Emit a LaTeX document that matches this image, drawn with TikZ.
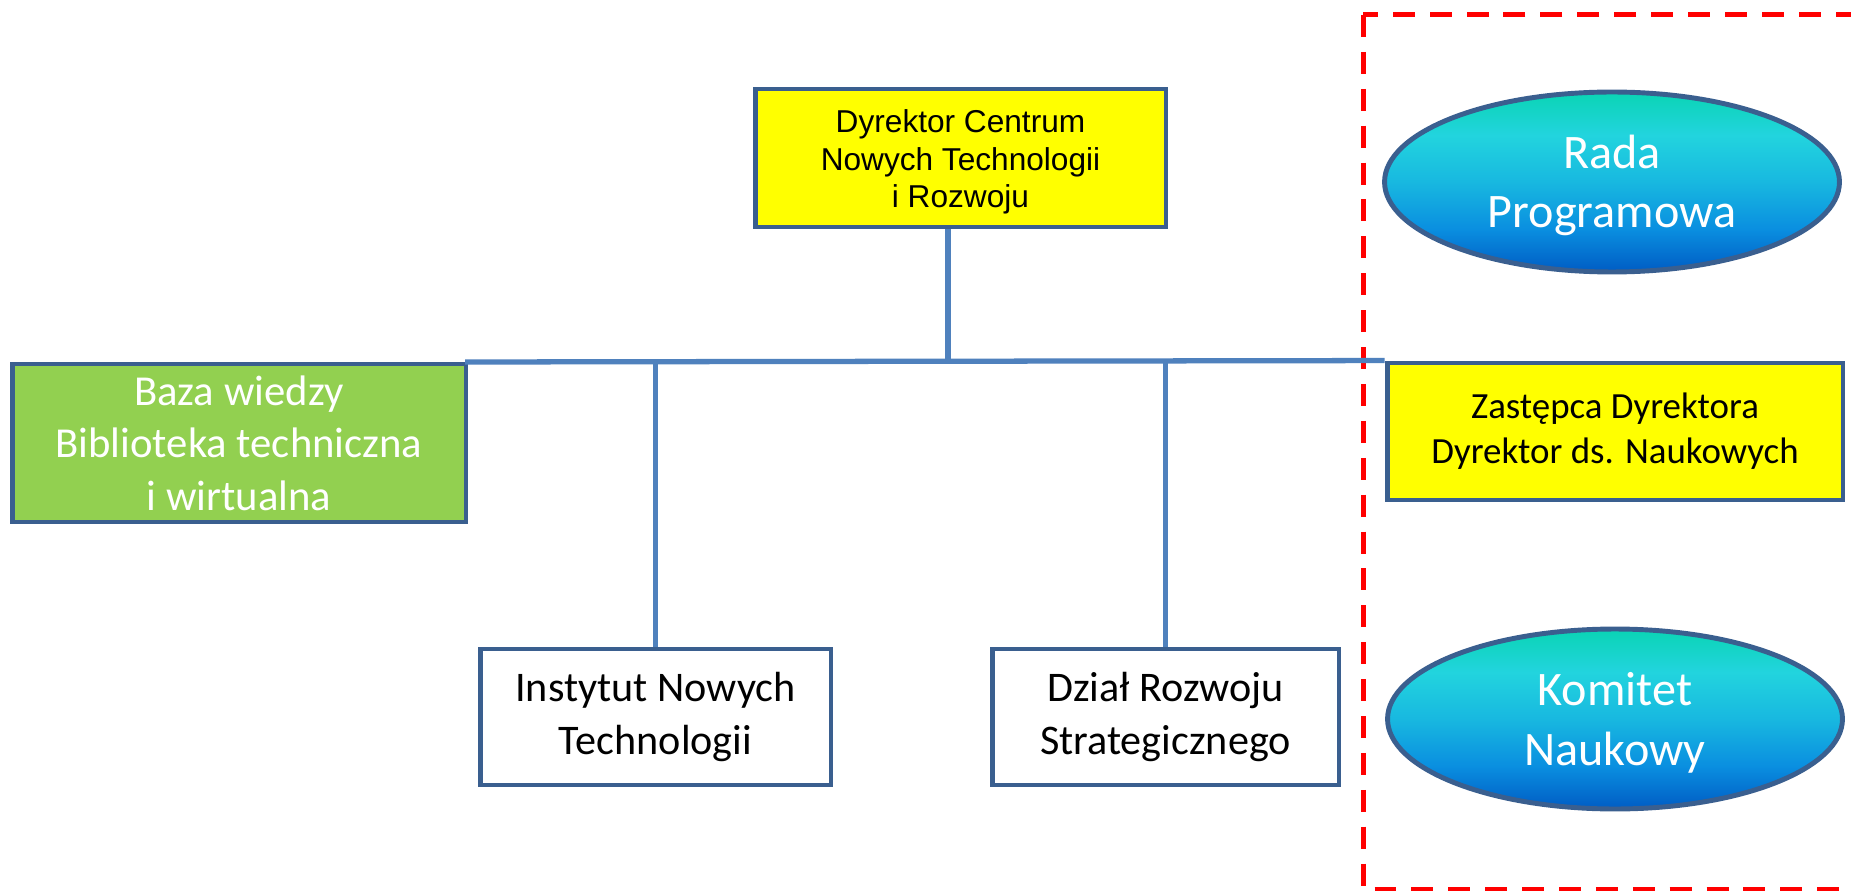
\documentclass[tikz,border=0pt]{standalone}
\usepackage{fontspec}
\setmainfont{Carlito}
\newfontfamily\arialf{Liberation Sans}
\usetikzlibrary{shapes.geometric}
\definecolor{bord}{HTML}{3A5F8F}
\definecolor{conn}{HTML}{4F81BD}
\definecolor{yel}{HTML}{FFFF00}
\definecolor{grn}{HTML}{92D050}
\definecolor{redd}{HTML}{FF0000}
\definecolor{sBot}{HTML}{005CC4}
\definecolor{sMid}{HTML}{0A8FE0}
\definecolor{sCen}{HTML}{18B8E0}
\definecolor{sCyan}{HTML}{22D4DE}
\definecolor{sTop}{HTML}{0AD4B4}
\pgfdeclareverticalshading{elshade}{100bp}{color(0bp)=(sBot); color(25bp)=(sBot); color(37bp)=(sMid); color(50bp)=(sCen); color(63bp)=(sCyan); color(75bp)=(sTop); color(100bp)=(sTop)}
\tikzset{
  box/.style={draw=bord, line width=2.8pt, rectangle, align=center, inner sep=0pt},
  conline/.style={draw=conn, line width=3pt},
  oval/.style={draw=bord, line width=2.8pt, ellipse, shading=elshade, inner sep=0pt,
     minimum width=9.1cm, minimum height=3.6cm},
  ovaltext/.style={text=white, align=center, inner sep=0pt, yshift=-0.07cm,
     font=\fontsize{27.4}{34}\selectfont},
}
\begin{document}
\begin{tikzpicture}[x=0.02cm,y=-0.02cm]
\useasboundingbox (0,0) rectangle (1851,891);
\fill[white] (0,0) rectangle (1851,891);
\clip (0,0) rectangle (1851,891);

% dashed frame
\draw[redd, line width=2.85pt, dash pattern=on 12.5pt off 8.5pt] (1363,15) rectangle (1880,889);

% nodes
\node[box, fill=yel, minimum width=8.22cm, minimum height=2.76cm,
      label={[align=center, inner sep=0pt, yshift=-0.08cm, font=\arialf\fontsize{18}{21.3}\selectfont]center:Dyrektor Centrum\\Nowych Technologii\\i Rozwoju}] (dir) at (960.5,158) {};
\node[box, fill=grn, text=white, minimum width=9.08cm, minimum height=3.16cm,
      font=\fontsize{24.3}{29.8}\selectfont] (baza) at (239,443)
      {Baza wiedzy\\Biblioteka techniczna\\i wirtualna};
\node[box, fill=white, minimum width=7.02cm, minimum height=2.72cm,
      font=\fontsize{24}{30}\selectfont] (inst) at (655.5,717)
      {Instytut Nowych\\Technologii};
\node[box, fill=white, minimum width=6.94cm, minimum height=2.72cm,
      font=\fontsize{24}{30}\selectfont] (dzial) at (1165.5,717)
      {Dział Rozwoju\\Strategicznego};
\node[box, fill=yel, minimum width=9.12cm, minimum height=2.74cm,
      font=\fontsize{21}{25.5}\selectfont] (zast) at (1615,431.5)
      {Zastępca Dyrektora\\Dyrektor ds. Naukowych};
\node[oval, label={[ovaltext]center:Rada\\Programowa}] (rada) at (1612,182) {};
\node[oval, label={[ovaltext]center:Komitet\\Naukowy}] (kom) at (1615,719) {};

% connectors
\coordinate (busL) at (465,362);
\draw[conline] (busL) -- (zast.north west);
\draw[conline] ([xshift=-0.25cm]dir.south) -- ([xshift=-0.25cm]dir.south |- busL);
\draw[conline] (inst.north) -- (inst.north |- busL);
\draw[conline] (dzial.north) -- (dzial.north |- busL);
\end{tikzpicture}
\end{document}
